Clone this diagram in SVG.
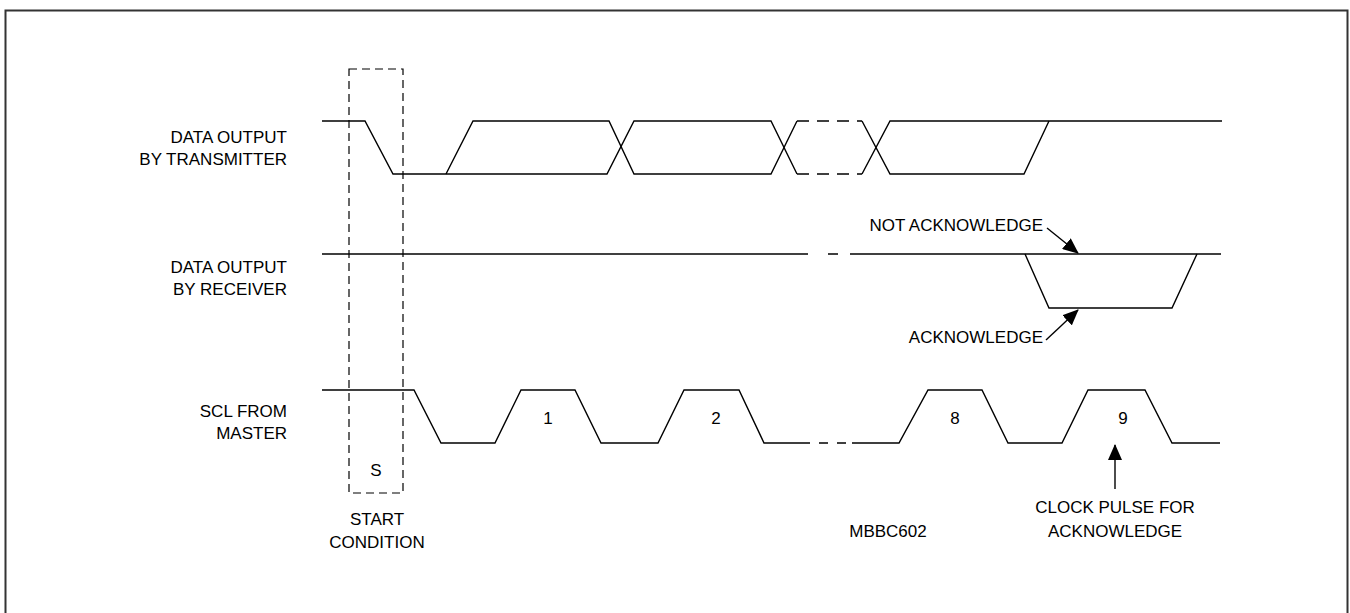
<svg xmlns="http://www.w3.org/2000/svg" width="1350" height="613" viewBox="0 0 1350 613">
<style>
.w{fill:none;stroke:#000;stroke-width:1.4;stroke-linejoin:miter}
.d{fill:none;stroke:#000;stroke-width:1.4;stroke-dasharray:9 8}
.bx{fill:none;stroke:#000;stroke-width:1.2;stroke-dasharray:8 5}
.t{font-family:"Liberation Sans",Arial,sans-serif;font-size:17px;fill:#000}
.r{text-anchor:end}
.m{text-anchor:middle}
</style>
<defs>
<marker id="ah" markerWidth="16" markerHeight="14" refX="15" refY="7" orient="auto" markerUnits="userSpaceOnUse">
<path d="M0,0 L16,7 L0,14 Z" fill="#000"/>
</marker>
</defs>
<rect x="5.5" y="10.5" width="1342" height="620" fill="#fff" stroke="#333" stroke-width="2"/>

<g id="labels">
<text class="t r" x="287" y="143">DATA OUTPUT</text>
<text class="t r" x="287" y="165">BY TRANSMITTER</text>
<text class="t r" x="287" y="273">DATA OUTPUT</text>
<text class="t r" x="287" y="295">BY RECEIVER</text>
<text class="t r" x="287" y="417">SCL FROM</text>
<text class="t r" x="287" y="439">MASTER</text>
</g>

<g id="start-condition">
<rect class="bx" x="349" y="69" width="54" height="424"/>
<text class="t m" x="376" y="476">S</text>
<text class="t m" x="377" y="525">START</text>
<text class="t m" x="377" y="548">CONDITION</text>
</g>

<g id="transmitter">
<polyline class="w" points="322,121 365,121 393,174 607,174 634,121 771,121 797,174"/>
<polyline class="w" points="446,174 473,121 609,121 634,174 771,174 797,121"/>
<line class="d" x1="797" y1="121" x2="862" y2="121" style="stroke-dasharray:12 8"/>
<line class="d" x1="797" y1="174" x2="862" y2="174" style="stroke-dasharray:12 8"/>
<polyline class="w" points="862,121 890,174 1024,174 1049,121"/>
<polyline class="w" points="862,174 890,121 1222,121"/>
</g>

<g id="receiver">
<line class="w" x1="322" y1="254" x2="808" y2="254"/>
<line class="d" x1="808" y1="254" x2="850" y2="254" style="stroke-dasharray:0 20 10 12"/>
<line class="w" x1="850" y1="254" x2="1221" y2="254"/>
<polyline class="w" points="1025,254 1049,308 1172,308 1197,254"/>
</g>

<g id="scl">
<polyline class="w" points="322,390 414,390 441,443 495,443 521,390 575,390 601,443 658,443 684,390 739,390 764,443 810,443"/>
<line class="d" x1="810" y1="443" x2="852" y2="443" style="stroke-dasharray:0 9 9 9 9 6"/>
<polyline class="w" points="852,443 899,443 928,390 982,390 1008,443 1062,443 1088,390 1145,390 1172,443 1220,443"/>
<text class="t m" x="548" y="424">1</text>
<text class="t m" x="716" y="424">2</text>
<text class="t m" x="955" y="424">8</text>
<text class="t m" x="1123" y="424">9</text>
</g>

<g id="annotations">
<text class="t r" x="1043" y="231">NOT ACKNOWLEDGE</text>
<text class="t r" x="1043" y="343">ACKNOWLEDGE</text>
<text class="t m" x="1115" y="513">CLOCK PULSE FOR</text>
<text class="t m" x="1115" y="537">ACKNOWLEDGE</text>
<text class="t m" x="888" y="537">MBBC602</text>
</g>

<g id="connectors">
<line class="w" x1="1047" y1="228" x2="1078" y2="253" marker-end="url(#ah)"/>
<line class="w" x1="1046" y1="340" x2="1078" y2="310" marker-end="url(#ah)"/>
<line class="w" x1="1115" y1="489" x2="1115" y2="445" marker-end="url(#ah)"/>
</g>
</svg>
